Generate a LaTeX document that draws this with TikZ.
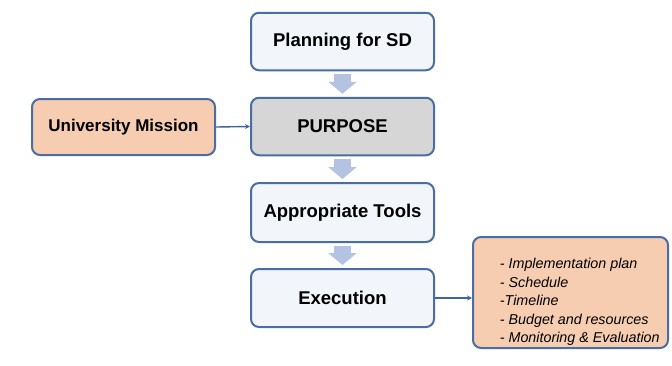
\documentclass[tikz,border=0pt]{standalone}
\usepackage{fontspec}
\setmainfont{Liberation Sans}
\usetikzlibrary{arrows.meta,calc}
\definecolor{bordc}{HTML}{4A6DA3}
\definecolor{boxfill}{HTML}{F2F5F9}
\definecolor{grayfill}{HTML}{D6D6D6}
\definecolor{peach}{HTML}{F6CDB1}
\definecolor{blockc}{HTML}{B3C3E1}
\definecolor{linec}{HTML}{3F64A0}
\tikzset{
  box/.style={draw=bordc, line width=2pt, rounded corners=8pt, fill=boxfill,
    minimum width=183pt, minimum height=57.5pt, inner sep=0pt,
    font=\fontsize{18.5}{22}\selectfont\bfseries},
  blockarrow/.style={draw=blockc, line width=17pt,
    -{Triangle[width=28pt,length=12pt]}, shorten >=-1pt},
  conn/.style={draw=linec, line width=1.4pt, -{Stealth[length=5pt,width=5pt]}}
}
\begin{document}
\begin{tikzpicture}[x=1pt,y=-1pt]
\useasboundingbox (0,0) rectangle (672,365);
\node[box] (plan) at (342.5,41.5) {Planning for SD};
\node[box, fill=grayfill] (purp) at (342.5,126.5) {PURPOSE};
\node[box, minimum height=59pt] (tools) at (342.5,212.5) {Appropriate Tools};
\node[box, minimum height=58pt] (exec) at (342.5,298) {Execution};
\node[box, fill=peach, minimum height=56pt, font=\fontsize{17}{20}\selectfont\bfseries] (mission) at (123.5,127) {University Mission};
\node[box, fill=peach, minimum width=195pt, minimum height=111pt] (list) at (570.5,292.5) {};
\node[anchor=west, align=left, inner sep=0pt, font=\fontsize{14.3}{18.5}\selectfont\itshape] (listtxt) at ($(list.west)+(27.7,9.5)$)
  {- Implementation plan\\- Schedule\\-Timeline\\- Budget and resources\\- Monitoring \& Evaluation};
\draw[blockarrow] ($(plan.south)+(0,3)$) -- ($(purp.north)+(0,-4)$);
\draw[blockarrow] ($(purp.south)+(0,3)$) -- ($(tools.north)+(0,-4)$);
\draw[blockarrow] ($(tools.south)+(0,3)$) -- ($(exec.north)+(0,-4)$);
\draw[conn] (mission.east) -- (purp.west);
\draw[conn] (exec.east) -- (exec.east -| list.west);
\end{tikzpicture}
\end{document}
